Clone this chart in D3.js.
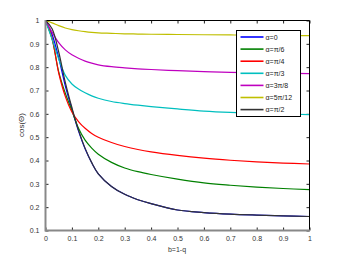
<!DOCTYPE html>
<html>
<head>
<meta charset="utf-8">
<script src="https://cdn.jsdelivr.net/npm/d3@7/dist/d3.min.js"></script>
<style>
  body { margin: 0; background: #fff; }
  svg { display: block; font-family: "Liberation Sans", Arial, sans-serif; }
</style>
</head>
<body>
<svg id="chart" width="343" height="258"></svg>
<script>
// sample points along b = 1 - q
var bGrid = [0, 0.025, 0.05, 0.075, 0.1, 0.125, 0.15, 0.175, 0.2, 0.25, 0.3, 0.35, 0.4, 0.5, 0.6, 0.7, 0.8, 0.9, 1];
var alpha0     = [1, 0.94, 0.84, 0.72, 0.62, 0.527, 0.45, 0.39, 0.343, 0.289, 0.255, 0.232, 0.215, 0.188, 0.177, 0.17, 0.166, 0.163, 0.16];
var alphaPi6   = [1, 0.92, 0.78, 0.688, 0.614, 0.538, 0.487, 0.453, 0.427, 0.392, 0.368, 0.352, 0.34, 0.32, 0.304, 0.294, 0.286, 0.28, 0.275];
var alphaPi4   = [1, 0.925, 0.775, 0.675, 0.608, 0.567, 0.538, 0.516, 0.5, 0.477, 0.46, 0.447, 0.437, 0.422, 0.41, 0.401, 0.394, 0.389, 0.385];
var alphaPi3   = [1, 0.92, 0.835, 0.765, 0.728, 0.706, 0.69, 0.677, 0.667, 0.653, 0.644, 0.637, 0.631, 0.621, 0.612, 0.606, 0.602, 0.599, 0.597];
var alpha3Pi8  = [1, 0.95, 0.905, 0.874, 0.853, 0.838, 0.826, 0.817, 0.81, 0.802, 0.797, 0.793, 0.79, 0.785, 0.781, 0.778, 0.776, 0.774, 0.772];
var alpha5Pi12 = [1, 0.99, 0.978, 0.968, 0.961, 0.956, 0.952, 0.949, 0.947, 0.945, 0.943, 0.942, 0.941, 0.94, 0.939, 0.938, 0.937, 0.936, 0.935];
var alphaPi2   = [1, 0.965, 0.865, 0.735, 0.627, 0.53, 0.452, 0.391, 0.343, 0.289, 0.255, 0.232, 0.215, 0.188, 0.177, 0.17, 0.166, 0.163, 0.16];
var seriesNames = ["α=0", "α=π/6", "α=π/4", "α=π/3", "α=3π/8", "α=5π/12", "α=π/2"];
var seriesColors = ["#0000ff", "#008000", "#ff0000", "#00bfbf", "#bf00bf", "#bfbf00", "#333333"];
var xTicks = [0, 0.1, 0.2, 0.3, 0.4, 0.5, 0.6, 0.7, 0.8, 0.9, 1];
var yTicks = [0.1, 0.2, 0.3, 0.4, 0.5, 0.6, 0.7, 0.8, 0.9, 1];

var svg, x, y, lines, line, legend, fmt;
svg = d3.select('#chart');
x = d3.scaleLinear().domain([0, 1]).range([45.5, 309.5]);
y = d3.scaleLinear().domain([0.1, 1]).range([230.5, 20.5]);
fmt = function(v){ return String(+v.toFixed(1)); };

lines = [alpha0, alphaPi6, alphaPi4, alphaPi3, alpha3Pi8, alpha5Pi12, alphaPi2].map(function(vals, i){
  return {
    name: seriesNames[i],
    color: seriesColors[i],
    pts: vals.map(function(v, j){ return {x: bGrid[j], y: v}; })
  };
});

// ticks, inward, mirrored on top/right
svg.append('g').attr('transform', 'translate(0,' + y.range()[0] + ')')
  .call(d3.axisBottom(x).tickValues(xTicks).tickSize(-3).tickPadding(6).tickFormat(fmt))
  .call(function(g){ g.select('.domain').remove(); });
svg.append('g').attr('transform', 'translate(0,' + y.range()[1] + ')')
  .call(d3.axisTop(x).tickValues(xTicks).tickSize(-3).tickFormat(''))
  .call(function(g){ g.select('.domain').remove(); });
svg.append('g').attr('transform', 'translate(' + x.range()[0] + ',0)')
  .call(d3.axisLeft(y).tickValues(yTicks).tickSize(-3).tickPadding(6).tickFormat(fmt))
  .call(function(g){ g.select('.domain').remove(); });
svg.append('g').attr('transform', 'translate(' + x.range()[1] + ',0)')
  .call(d3.axisRight(y).tickValues(yTicks).tickSize(-3).tickFormat(''))
  .call(function(g){ g.select('.domain').remove(); });
svg.selectAll('.tick line').attr('stroke', '#222');
svg.selectAll('.tick text').attr('font-size', 7).attr('fill', '#333');

line = d3.line().curve(d3.curveCatmullRom.alpha(0.5))
  .x(function(d){ return x(d.x); })
  .y(function(d){ return y(d.y); });

svg.append('g').selectAll('path.line').data(lines).enter().append('path')
  .attr('class', 'line')
  .attr('d', function(d){ return line(d.pts); })
  .attr('fill', 'none')
  .attr('stroke', function(d){ return d.color; })
  .attr('stroke-width', 1.2);

// frame: left/bottom gray, top/right black
svg.append('line').attr('x1', x.range()[0]).attr('x2', x.range()[1]).attr('y1', y.range()[1]).attr('y2', y.range()[1]).attr('stroke', '#000');
svg.append('line').attr('x1', x.range()[1]).attr('x2', x.range()[1]).attr('y1', y.range()[1]).attr('y2', y.range()[0]).attr('stroke', '#000');
svg.append('line').attr('x1', x.range()[0]).attr('x2', x.range()[1] + 0.5).attr('y1', y.range()[0]).attr('y2', y.range()[0]).attr('stroke', '#888').attr('stroke-width', 2);
svg.append('line').attr('x1', x.range()[0]).attr('x2', x.range()[0]).attr('y1', y.range()[1] - 0.5).attr('y2', y.range()[0] + 1).attr('stroke', '#888').attr('stroke-width', 2);

// axis labels
svg.append('text').attr('x', 177).attr('y', 252).attr('text-anchor', 'middle')
  .attr('font-size', 7).attr('fill', '#333').text('b=1-q');
svg.append('text').attr('transform', 'translate(24,125) rotate(-90)').attr('text-anchor', 'middle')
  .attr('font-size', 8).attr('fill', '#333').text('cos(Θ)');

// legend
legend = svg.append('g').attr('transform', 'translate(236.5,30.5)');
legend.append('rect').attr('width', 64).attr('height', 86).attr('fill', '#fff').attr('stroke', '#000');
legend.selectAll('g.item').data(lines).enter().append('g')
  .attr('class', 'item')
  .attr('transform', function(d, i){ return 'translate(0,' + (6.5 + i * 12.1) + ')'; })
  .each(function(d){
    var g = d3.select(this);
    g.append('line').attr('x1', 4).attr('x2', 27).attr('stroke', d.color).attr('stroke-width', 1.6);
    g.append('text').attr('x', 29).attr('y', 2.5).attr('font-size', 7).attr('fill', '#222').text(d.name);
  });
</script>
</body>
</html>
